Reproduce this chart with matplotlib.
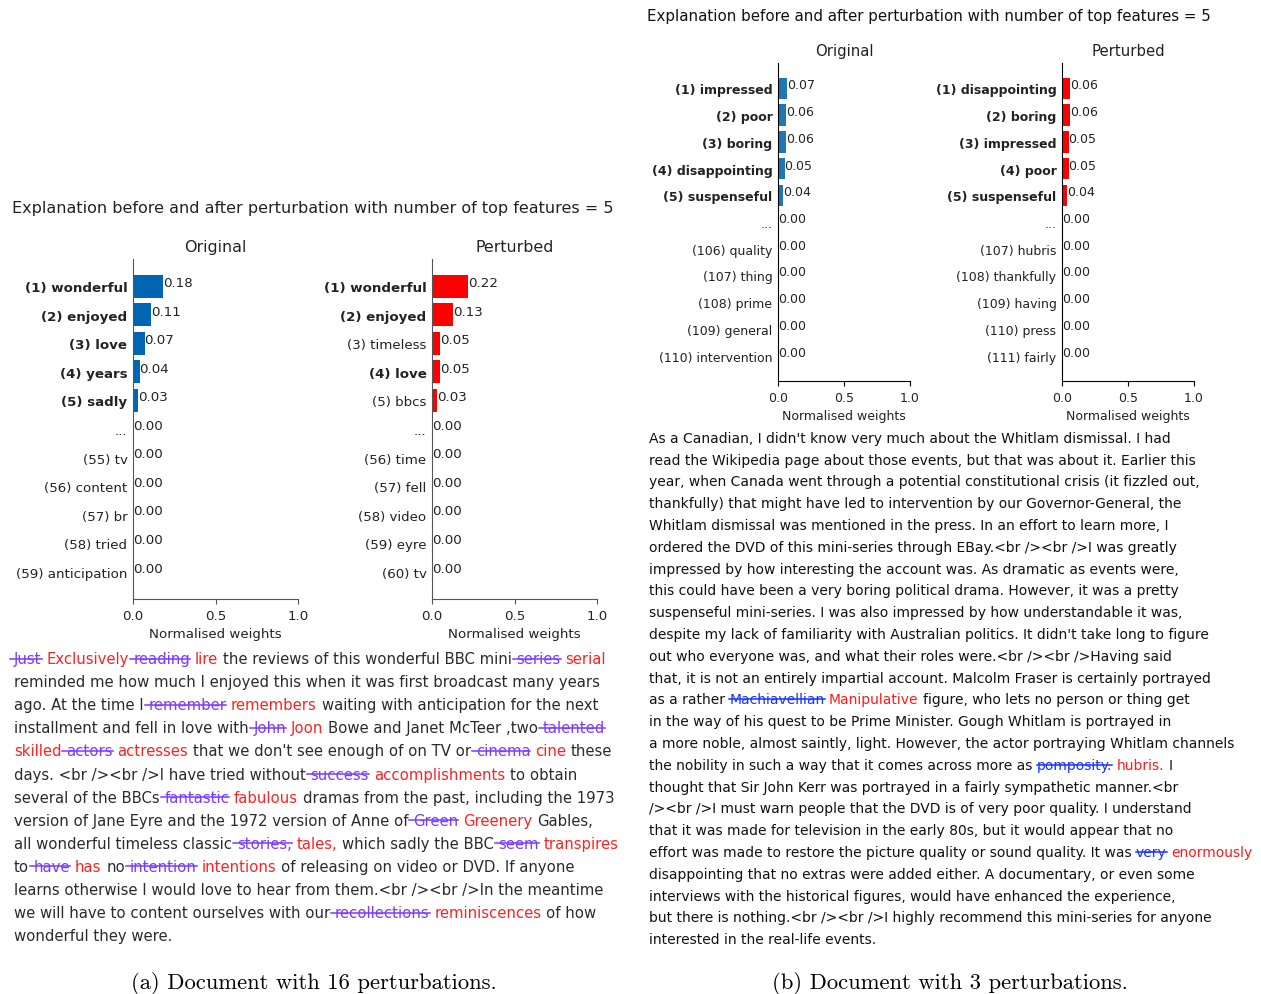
import matplotlib
matplotlib.use("Agg")
import matplotlib.pyplot as plt
from matplotlib.lines import Line2D

W, H = 1261, 995
fig = plt.figure(figsize=(W / 100, H / 100), dpi=100)
fig.patch.set_facecolor("white")

# ---------------- data ----------------
a_orig_labels = ["(1) wonderful", "(2) enjoyed", "(3) love", "(4) years", "(5) sadly", "...",
                 "(55) tv", "(56) content", "(57) br", "(58) tried", "(59) anticipation"]
a_orig_weights = [0.18, 0.11, 0.07, 0.04, 0.03, 0.00, 0.00, 0.00, 0.00, 0.00, 0.00]
a_orig_bold = [1, 1, 1, 1, 1, 0, 0, 0, 0, 0, 0]

a_pert_labels = ["(1) wonderful", "(2) enjoyed", "(3) timeless", "(4) love", "(5) bbcs", "...",
                 "(56) time", "(57) fell", "(58) video", "(59) eyre", "(60) tv"]
a_pert_weights = [0.22, 0.13, 0.05, 0.05, 0.03, 0.00, 0.00, 0.00, 0.00, 0.00, 0.00]
a_pert_bold = [1, 1, 0, 1, 0, 0, 0, 0, 0, 0, 0]

b_orig_labels = ["(1) impressed", "(2) poor", "(3) boring", "(4) disappointing", "(5) suspenseful", "...",
                 "(106) quality", "(107) thing", "(108) prime", "(109) general", "(110) intervention"]
b_orig_weights = [0.07, 0.06, 0.06, 0.05, 0.04, 0.00, 0.00, 0.00, 0.00, 0.00, 0.00]
b_orig_bold = [1, 1, 1, 1, 1, 0, 0, 0, 0, 0, 0]

b_pert_labels = ["(1) disappointing", "(2) boring", "(3) impressed", "(4) poor", "(5) suspenseful", "...",
                 "(107) hubris", "(108) thankfully", "(109) having", "(110) press", "(111) fairly"]
b_pert_weights = [0.06, 0.06, 0.05, 0.05, 0.04, 0.00, 0.00, 0.00, 0.00, 0.00, 0.00]
b_pert_bold = [1, 1, 1, 1, 1, 0, 0, 0, 0, 0, 0]

suptitle_text = "Explanation before and after perturbation with number of top features = 5"
caption_a = "(a) Document with 16 perturbations."
caption_b = "(b) Document with 3 perturbations."

# Review texts: "" = unchanged, "d" = removed word, "i" = substituted word
doc_a = [
    [("Just", "d"), ("Exclusively", "i"), ("reading", "d"), ("lire", "i"),
     ("the reviews of this wonderful BBC mini", ""), ("series", "d"), ("serial", "i")],
    [("reminded me how much I enjoyed this when it was first broadcast many years", "")],
    [("ago. At the time I", ""), ("remember", "d"), ("remembers", "i"),
     ("waiting with anticipation for the next", "")],
    [("installment and fell in love with", ""), ("John", "d"), ("Joon", "i"),
     ("Bowe and Janet McTeer ,two", ""), ("talented", "d")],
    [("skilled", "i"), ("actors", "d"), ("actresses", "i"),
     ("that we don't see enough of on TV or", ""), ("cinema", "d"), ("cine", "i"), ("these", "")],
    [("days. <br /><br />I have tried without", ""), ("success", "d"),
     ("accomplishments", "i"), ("to obtain", "")],
    [("several of the BBCs", ""), ("fantastic", "d"), ("fabulous", "i"),
     ("dramas from the past, including the 1973", "")],
    [("version of Jane Eyre and the 1972 version of Anne of", ""), ("Green", "d"),
     ("Greenery", "i"), ("Gables,", "")],
    [("all wonderful timeless classic", ""), ("stories,", "d"), ("tales,", "i"),
     ("which sadly the BBC", ""), ("seem", "d"), ("transpires", "i")],
    [("to", ""), ("have", "d"), ("has", "i"), ("no", ""), ("intention", "d"),
     ("intentions", "i"), ("of releasing on video or DVD. If anyone", "")],
    [("learns otherwise I would love to hear from them.<br /><br />In the meantime", "")],
    [("we will have to content ourselves with our", ""), ("recollections", "d"),
     ("reminiscences", "i"), ("of how", "")],
    [("wonderful they were.", "")],
]

doc_b = [
    [("As a Canadian, I didn't know very much about the Whitlam dismissal. I had", "")],
    [("read the Wikipedia page about those events, but that was about it. Earlier this", "")],
    [("year, when Canada went through a potential constitutional crisis (it fizzled out,", "")],
    [("thankfully) that might have led to intervention by our Governor-General, the", "")],
    [("Whitlam dismissal was mentioned in the press. In an effort to learn more, I", "")],
    [("ordered the DVD of this mini-series through EBay.<br /><br />I was greatly", "")],
    [("impressed by how interesting the account was. As dramatic as events were,", "")],
    [("this could have been a very boring political drama. However, it was a pretty", "")],
    [("suspenseful mini-series. I was also impressed by how understandable it was,", "")],
    [("despite my lack of familiarity with Australian politics. It didn't take long to figure", "")],
    [("out who everyone was, and what their roles were.<br /><br />Having said", "")],
    [("that, it is not an entirely impartial account. Malcolm Fraser is certainly portrayed", "")],
    [("as a rather", ""), ("Machiavellian", "d"), ("Manipulative", "i"),
     ("figure, who lets no person or thing get", "")],
    [("in the way of his quest to be Prime Minister. Gough Whitlam is portrayed in", "")],
    [("a more noble, almost saintly, light. However, the actor portraying Whitlam channels", "")],
    [("the nobility in such a way that it comes across more as", ""), ("pomposity.", "d"),
     ("hubris.", "i"), ("I", "")],
    [("thought that Sir John Kerr was portrayed in a fairly sympathetic manner.<br", "")],
    [("/><br />I must warn people that the DVD is of very poor quality. I understand", "")],
    [("that it was made for television in the early 80s, but it would appear that no", "")],
    [("effort was made to restore the picture quality or sound quality. It was", ""),
     ("very", "d"), ("enormously", "i")],
    [("disappointing that no extras were added either. A documentary, or even some", "")],
    [("interviews with the historical figures, would have enhanced the experience,", "")],
    [("but there is nothing.<br /><br />I highly recommend this mini-series for anyone", "")],
    [("interested in the real-life events.", "")],
]


# ---------------- helpers ----------------
def fx(px):
    return px / W


def fy(py):
    return 1 - py / H


def add_axes_px(x0, x1, y_top, y_bot):
    return fig.add_axes([fx(x0), fy(y_bot), (x1 - x0) / W, (y_bot - y_top) / H])


def weight_panel(ax, labels, weights, bold, color, title, fs, tfs, spine_color):
    rows = list(range(len(labels)))
    ax.barh(rows, weights, height=0.8, color=color)
    ax.set_xlim(0, 1)
    ax.set_ylim(10.95, -0.95)
    ax.set_xticks([0.0, 0.5, 1.0])
    ax.set_xticklabels(["0.0", "0.5", "1.0"], fontsize=fs, color="#222222")
    ax.set_yticks(rows)
    ax.set_yticklabels(labels, fontsize=fs, color="#222222")
    for lab, b in zip(ax.get_yticklabels(), bold):
        lab.set_fontweight("bold" if b else "normal")
    ax.tick_params(axis="y", length=0, pad=4)
    ax.tick_params(axis="x", colors=spine_color, labelcolor="#222222")
    for r, w in zip(rows, weights):
        ax.text(w, r - 0.13, f"{w:.2f}", ha="left", va="center", fontsize=fs, color="#222222")
    for s in ("top", "right"):
        ax.spines[s].set_visible(False)
    for s in ("left", "bottom"):
        ax.spines[s].set_color(spine_color)
    ax.set_title(title, fontsize=tfs, color="#222222")
    ax.set_xlabel("Normalised weights", fontsize=fs, color="#222222")
    ax.set_facecolor("none")


def paragraph(lines, x0, y0, dy, fs, del_color, ins_color, lead, txt_color):
    r = fig.canvas.get_renderer()
    probe1 = fig.text(0, 0, "x x", fontsize=fs)
    probe2 = fig.text(0, 0, "xx", fontsize=fs)
    sp = probe1.get_window_extent(r).width - probe2.get_window_extent(r).width
    probe1.remove()
    probe2.remove()
    em = fs * 100 / 72
    for k, line in enumerate(lines):
        x = x0
        yb = y0 + k * dy + 0.27 * em
        for txt, kind in line:
            col = {"": txt_color, "d": del_color, "i": ins_color}[kind]
            t = fig.text(fx(x), fy(yb), txt, fontsize=fs, color=col, ha="left", va="baseline")
            w = t.get_window_extent(r).width
            if kind == "d":
                ys = yb - 0.3 * em
                fig.add_artist(Line2D([fx(x - lead * sp), fx(x + w)], [fy(ys), fy(ys)],
                                      transform=fig.transFigure, color=col, lw=1.1))
            x += w + sp


# ---------------- panel (a) ----------------
fig.text(fx(12), fy(209), suptitle_text, fontsize=11.5, color="#222222", ha="left", va="center")
ax1 = add_axes_px(133, 298, 260, 600)
weight_panel(ax1, a_orig_labels, a_orig_weights, a_orig_bold, "#0066b4", "Original", 9.6, 11.4, "#555555")
ax2 = add_axes_px(432, 597, 260, 600)
weight_panel(ax2, a_pert_labels, a_pert_weights, a_pert_bold, "#ff0000", "Perturbed", 9.6, 11.4, "#555555")
paragraph(doc_a, 14, 660, 23.1, 10.75, "#7a3cff", "#ff2020", 0.8, "#2a2a2a")

# ---------------- panel (b) ----------------
fig.text(fx(647), fy(16), suptitle_text, fontsize=10.8, color="#111111", ha="left", va="center")
ax3 = add_axes_px(778, 910, 64, 382)
weight_panel(ax3, b_orig_labels, b_orig_weights, b_orig_bold, "#1f77b4", "Original", 9.0, 10.7, "#000000")
ax4 = add_axes_px(1062, 1194, 64, 382)
weight_panel(ax4, b_pert_labels, b_pert_weights, b_pert_bold, "#ff0000", "Perturbed", 9.0, 10.7, "#000000")
paragraph(doc_b, 649, 439, 21.8, 10.0, "#1a33ff", "#ff1a1a", 0.0, "#111111")

# ---------------- captions ----------------
fig.text(fx(314), fy(984), caption_a, fontsize=16.3, family="cmr10", ha="center", va="center")
fig.text(fx(950), fy(984), caption_b, fontsize=16.3, family="cmr10", ha="center", va="center")

fig.savefig("out.png", dpi=100, facecolor="white")
